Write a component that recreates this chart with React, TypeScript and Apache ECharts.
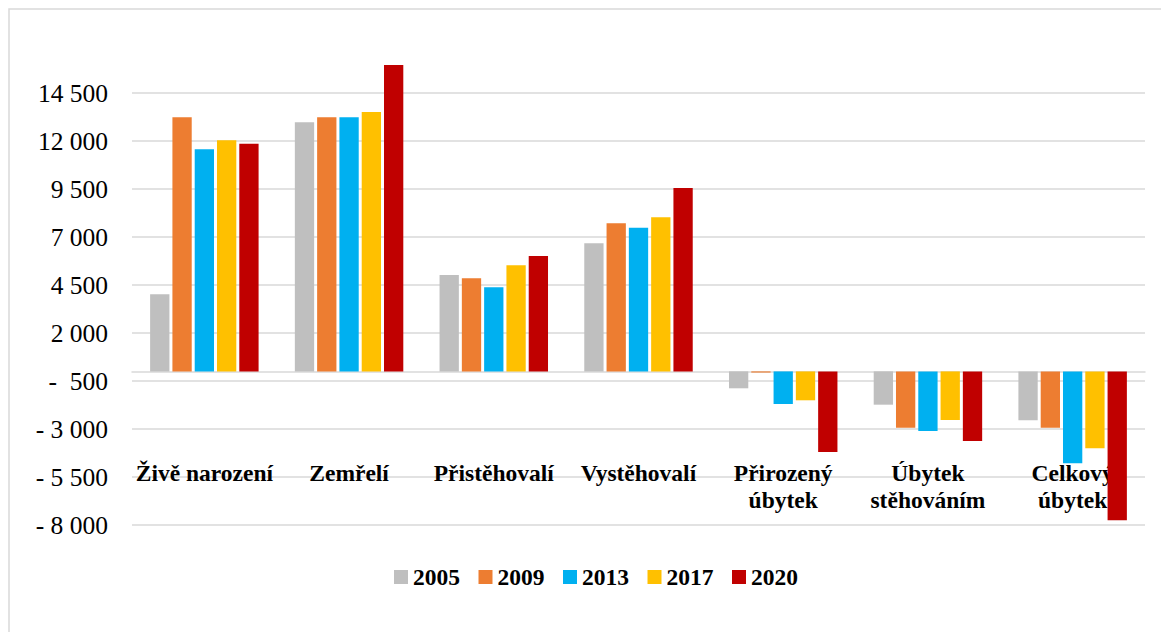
import React, { useEffect, useRef } from "react";
import * as echarts from "echarts";

const categories = [
  "Živě narození",
  "Zemřelí",
  "Přistěhovalí",
  "Vystěhovalí",
  "Přirozený\núbytek",
  "Úbytek\nstěhováním",
  "Celkový\núbytek",
];
const years = ["2005", "2009", "2013", "2017", "2020"];
const s2005 = [4016, 12974, 5021, 6672, -880, -1734, -2547];
const s2009 = [13234, 13234, 4849, 7714, -60, -2932, -2932];
const s2013 = [11568, 13234, 4380, 7484, -1698, -3104, -4786];
const s2017 = [12036, 13510, 5526, 8026, -1505, -2531, -4005];
const s2020 = [11860, 15958, 6010, 9552, -4198, -3625, -7755];
const seriesValues = [s2005, s2009, s2013, s2017, s2020];
const colors = ["#BFBFBF", "#ED7D31", "#00B0F0", "#FFC000", "#C00000"];

const FONT = "'Liberation Serif', 'Times New Roman', serif";

function fmt(v: number): string {
  const a = Math.abs(Math.round(v));
  const s = String(a).replace(/\B(?=(\d{3})+(?!\d))/g, " ");
  if (v < 0) return a < 1000 ? "-\u00a0 " + s : "- " + s;
  return s;
}

export default function App() {
  const ref = useRef<HTMLDivElement>(null);
  useEffect(() => {
    if (!ref.current) return;
    const chart = echarts.init(ref.current, undefined, { renderer: "svg" });
    chart.setOption({
      animation: false,
      backgroundColor: "#ffffff",
      grid: {
        left: 132,
        right: 16,
        top: 64.2,
        bottom: 107,
        containLabel: false,
        outerBoundsMode: "none",
      },
      graphic: [
        {
          type: "rect",
          shape: { x: 9, y: 9, width: 1200, height: 700 },
          style: { fill: "none", stroke: "#d9d9d9", lineWidth: 1.5 },
          silent: true,
        },
      ],
      legend: {
        data: years,
        left: 389,
        top: 560,
        icon: "rect",
        itemWidth: 14,
        itemHeight: 14,
        itemGap: 18.5,
        textStyle: { fontFamily: FONT, fontWeight: "bold", fontSize: 23.5, color: "#000" },
      },
      xAxis: {
        type: "category",
        data: categories,
        axisLine: { show: true, onZero: true, lineStyle: { color: "#d9d9d9", width: 1.5 } },
        axisTick: { show: false },
        axisLabel: {
          interval: 0,
          margin: -66,
          verticalAlign: "top",
          fontFamily: FONT,
          fontWeight: "bold",
          fontSize: 23.5,
          lineHeight: 27,
          color: "#000",
        },
      },
      yAxis: {
        type: "value",
        min: -8000,
        max: 16000,
        interval: 2500,
        axisLine: { show: false },
        axisTick: { show: false },
        splitLine: { show: true, showMaxLine: false, lineStyle: { color: "#d9d9d9", width: 1.5 } },
        axisLabel: {
          showMaxLabel: false,
          margin: 24,
          fontFamily: FONT,
          fontSize: 25.5,
          color: "#000",
          formatter: (v: number) => fmt(v),
        },
      },
      series: years.map((y, i) => ({
        name: y,
        type: "bar",
        data: seriesValues[i],
        barWidth: 19.3,
        barGap: "15.5%",
        itemStyle: { color: colors[i] },
      })),
    });
    return () => chart.dispose();
  }, []);
  return (
    <div
      ref={ref}
      style={{ position: "fixed", left: 0, top: 0, width: 1161, height: 632 }}
    />
  );
}
